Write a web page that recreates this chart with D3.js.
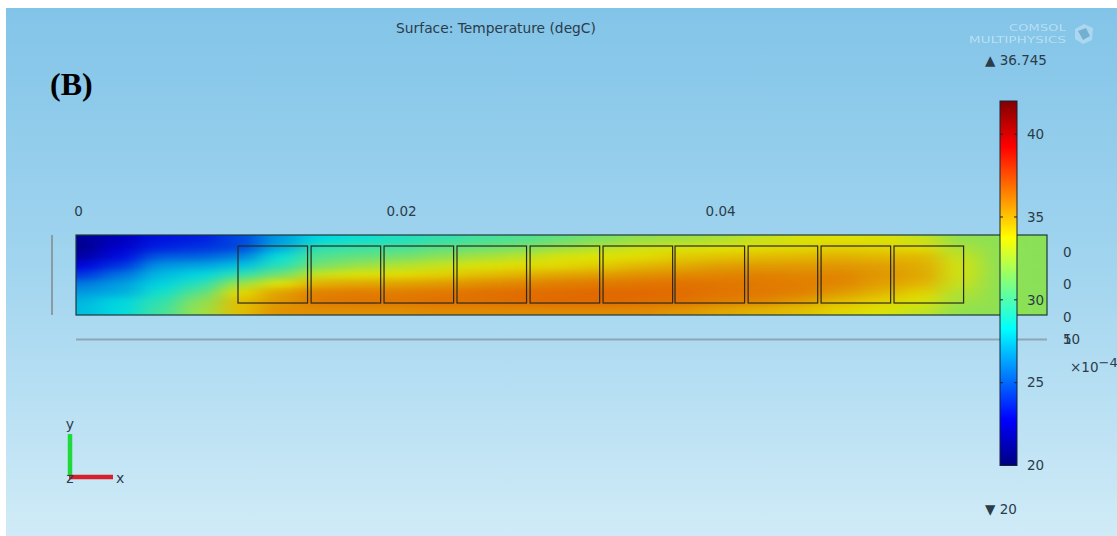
<!DOCTYPE html>
<html>
<head>
<meta charset="utf-8">
<script src="https://cdn.jsdelivr.net/npm/d3@7"></script>
<style>
  html, body { margin: 0; padding: 0; background: #fff; }
  svg { display: block; }
  text { font-family: "DejaVu Sans", sans-serif; fill: #2b3c4a; }
</style>
</head>
<body>
<svg id="chart" width="1117" height="536"></svg>
<script>
const titleText = 'Surface: Temperature (degC)';
const panelLabel = '(B)';
const maxLabel = '36.745';
const minLabel = '20';

// x axis, metres
const xTicks = [0, 0.02, 0.04];
const xDomain = [0, 0.0603];

// y axis, mm. Labels are the odd rounded ones in the picture, "10" and "5" overprint
const yTicks = [5.4, 3.4, 1.4, 0, 0];
const yTickLabels = ['0', '0', '0', '5', '10'];
const yDomain = [1.51, 6.45];

// colour bar
const barTicks = [20, 25, 30, 35, 40];
const barDomain = [20, 42];
const rainbowStops = [20, 22.75, 28.25, 33.75, 39.25, 42];
const rainbowColors = ['#000080', '#0000ff', '#00ffff', '#ffff00', '#ff0000', '#800000'];
const fieldColors = ['#000078', '#0000e0', '#00e0e0', '#e2e200', '#e00000', '#700000'];

// heating blocks: left edge in metres
const blockStarts = [0.01006, 0.0146, 0.01913, 0.02366, 0.0282, 0.03273, 0.0372, 0.04174, 0.04627, 0.0508];
const blockWidth = 0.00432;
const blockTop = 5.77;
const blockBottom = 2.25;

// sampled temperature field, degC
const fieldCols = [0.00025, 0.00273, 0.00522, 0.0077, 0.01019, 0.01267, 0.01516, 0.01764, 0.02012, 0.02261,
  0.02509, 0.02758, 0.03006, 0.03255, 0.03503, 0.03752, 0.04, 0.04248, 0.04497, 0.04745, 0.04994, 0.05242,
  0.05491, 0.05739, 0.05988, 0.0603];
const fieldRows = [6.2, 5.65, 5.1, 4.55, 4, 3.45, 2.9, 2.35, 1.8];
const fieldTemps = [
  [20.8, 20.6, 21.2, 22.8, 24.0, 25.6, 26.5, 27.2, 27.4],
  [21.8, 22.3, 23.0, 24.0, 25.5, 26.5, 27.0, 28.0, 28.1],
  [23.2, 23.6, 25.0, 26.4, 27.3, 27.9, 28.7, 29.4, 29.8],
  [23.5, 24.0, 25.2, 26.8, 28.0, 29.2, 30.4, 31.6, 32.0],
  [24.5, 24.5, 26.0, 27.5, 29.5, 32.0, 33.9, 34.6, 34.6],
  [26.6, 27.0, 28.4, 29.3, 31.0, 33.7, 35.3, 35.6, 35.7],
  [28.1, 29.4, 30.3, 31.2, 33.2, 35.0, 36.1, 36.3, 35.8],
  [28.6, 29.7, 30.7, 32.0, 33.6, 35.2, 36.2, 36.4, 35.8],
  [29.0, 30.0, 31.1, 32.6, 33.9, 35.3, 36.2, 36.4, 35.8],
  [29.5, 30.5, 31.7, 33.1, 34.2, 35.5, 36.3, 36.5, 35.9],
  [29.9, 30.9, 32.3, 33.6, 34.6, 35.8, 36.5, 36.5, 35.9],
  [30.2, 31.3, 32.8, 33.9, 34.9, 36.0, 36.6, 36.6, 35.9],
  [30.7, 32.0, 33.5, 34.0, 35.2, 36.2, 36.6, 36.7, 35.9],
  [31.3, 32.7, 33.7, 34.3, 35.4, 36.3, 36.7, 36.7, 35.9],
  [31.8, 33.3, 33.9, 34.8, 35.7, 36.4, 36.7, 36.6, 35.9],
  [32.1, 33.5, 34.3, 35.1, 35.9, 36.5, 36.6, 36.5, 35.6],
  [32.4, 33.7, 34.5, 35.4, 36.0, 36.4, 36.4, 36.2, 35.2],
  [33.0, 33.9, 34.7, 35.5, 36.1, 36.3, 36.3, 36.0, 34.9],
  [33.5, 34.0, 34.8, 35.5, 36.0, 36.2, 36.1, 35.5, 34.6],
  [33.7, 34.2, 35.0, 35.6, 36.0, 36.0, 35.5, 34.7, 34.1],
  [33.6, 34.1, 34.8, 35.4, 35.6, 35.4, 34.9, 34.2, 33.6],
  [33.1, 33.9, 34.8, 35.1, 35.2, 34.9, 34.2, 33.6, 33.0],
  [31.8, 32.4, 33.0, 33.3, 33.3, 33.0, 32.6, 32.2, 31.8],
  [31.7, 31.7, 31.7, 31.7, 31.7, 31.7, 31.7, 31.7, 31.7],
  [31.6, 31.6, 31.6, 31.6, 31.6, 31.6, 31.6, 31.6, 31.6],
  [31.6, 31.6, 31.6, 31.6, 31.6, 31.6, 31.6, 31.6, 31.6],
];

const width = 1117;
const height = 536;

const x = d3.scaleLinear().domain(xDomain).range([76, 1047]);
const y = d3.scaleLinear().domain(yDomain).range([315, 235]);
const barY = d3.scaleLinear().domain(barDomain).range([465.5, 101]);
const barColor = d3.scaleLinear().domain(rainbowStops).range(rainbowColors);
const fieldColor = d3.scaleLinear().domain(rainbowStops).range(fieldColors);

const svg = d3.select('#chart');
const defs = svg.append('defs');

// Backdrop
const bgGrad = defs.append('linearGradient')
  .attr('id', 'bg').attr('x1', 0).attr('y1', 0).attr('x2', 0).attr('y2', 1);
bgGrad.append('stop').attr('offset', 0).attr('stop-color', '#82c4e8');
bgGrad.append('stop').attr('offset', 0.5).attr('stop-color', '#a2d5ef');
bgGrad.append('stop').attr('offset', 1).attr('stop-color', '#d0ebf7');

svg.append('rect').attr('width', width).attr('height', height).attr('fill', '#fff');
svg.append('rect')
  .attr('x', 6).attr('y', 8)
  .attr('width', width - 6).attr('height', height - 8)
  .attr('fill', 'url(#bg)');

// Clip + blur so the sampled cells read as a continuous field
defs.append('clipPath').attr('id', 'domain-clip')
  .append('rect')
  .attr('x', x(0)).attr('y', y(yDomain[1]))
  .attr('width', x(xDomain[1]) - x(0))
  .attr('height', y(yDomain[0]) - y(yDomain[1]));

const blur = defs.append('filter').attr('id', 'smooth')
  .attr('filterUnits', 'userSpaceOnUse')
  .attr('x', 0).attr('y', 180).attr('width', width).attr('height', 200)
  .attr('color-interpolation-filters', 'sRGB');
blur.append('feGaussianBlur').attr('stdDeviation', '13 3');

const fieldLayer = svg.append('g').attr('clip-path', 'url(#domain-clip)')
  .append('g').attr('filter', 'url(#smooth)');

const colEdge = i => (i === 0 ? x(0) - 40
  : i === fieldCols.length ? x(xDomain[1]) + 40
  : (x(fieldCols[i - 1]) + x(fieldCols[i])) / 2);
const rowEdge = j => (j === 0 ? y(yDomain[1]) - 20
  : j === fieldRows.length ? y(yDomain[0]) + 20
  : (y(fieldRows[j - 1]) + y(fieldRows[j])) / 2);

fieldTemps.forEach((col, i) => {
  fieldLayer.selectAll(`rect.col-${i}`)
    .data(col)
    .join('rect')
    .attr('class', `col-${i}`)
    .attr('x', colEdge(i))
    .attr('width', colEdge(i + 1) - colEdge(i) + 0.5)
    .attr('y', (d, j) => rowEdge(j))
    .attr('height', (d, j) => rowEdge(j + 1) - rowEdge(j) + 0.5)
    .attr('fill', d => fieldColor(d));
});

// Domain outline and heating blocks
svg.append('rect')
  .attr('x', x(0)).attr('y', y(yDomain[1]))
  .attr('width', x(xDomain[1]) - x(0))
  .attr('height', y(yDomain[0]) - y(yDomain[1]))
  .attr('fill', 'none')
  .attr('stroke', '#1d3a3a').attr('stroke-width', 1.2);

svg.append('g').selectAll('rect')
  .data(blockStarts)
  .join('rect')
  .attr('x', d => x(d))
  .attr('y', y(blockTop))
  .attr('width', x(blockWidth) - x(0))
  .attr('height', y(blockBottom) - y(blockTop))
  .attr('fill', 'none')
  .attr('stroke', '#2a2a20').attr('stroke-width', 1.2);

// Grey axis rulers
svg.append('line')
  .attr('x1', 52).attr('x2', 52)
  .attr('y1', y(yDomain[1])).attr('y2', y(yDomain[0]))
  .attr('stroke', '#8a9ba6').attr('stroke-width', 2);
svg.append('line')
  .attr('x1', x(0)).attr('x2', x(xDomain[1]))
  .attr('y1', 339.5).attr('y2', 339.5)
  .attr('stroke', '#8fa6b3').attr('stroke-width', 2);

// Axes
const xAxis = d3.axisTop(x).tickValues(xTicks)
  .tickSize(0).tickFormat(d => (d === 0 ? '0' : d3.format('.2f')(d)));
svg.append('g')
  .attr('transform', 'translate(0,219)')
  .call(xAxis)
  .call(g => g.select('.domain').remove())
  .call(g => g.selectAll('text').attr('font-size', 13.5).attr('dy', 0)
    .attr('dx', (d, i) => [2, 3, 0][i]));

const yAxis = d3.axisRight(y).tickValues(yTicks)
  .tickSize(0).tickFormat((d, i) => yTickLabels[i]);
svg.append('g')
  .attr('transform', 'translate(1063,0)')
  .call(yAxis)
  .call(g => g.select('.domain').remove())
  .call(g => g.selectAll('text').attr('x', 0).attr('font-size', 13.5));

const expLabel = svg.append('text').attr('x', 1070).attr('y', 372).attr('font-size', 13.5);
expLabel.append('tspan').text('×10');
expLabel.append('tspan').attr('dy', -5).attr('font-size', 13).text('−4');

// Colour bar
const barGrad = defs.append('linearGradient')
  .attr('id', 'rainbow').attr('x1', 0).attr('y1', 1).attr('x2', 0).attr('y2', 0);
barGrad.selectAll('stop')
  .data(rainbowStops)
  .join('stop')
  .attr('offset', d => (d - barDomain[0]) / (barDomain[1] - barDomain[0]))
  .attr('stop-color', d => barColor(d));

svg.append('rect')
  .attr('x', 1000).attr('y', barY(barDomain[1]))
  .attr('width', 17).attr('height', barY(barDomain[0]) - barY(barDomain[1]))
  .attr('fill', 'url(#rainbow)')
  .attr('stroke', '#152536').attr('stroke-width', 1);

const barAxis = d3.axisRight(barY).tickValues(barTicks).tickSize(0).tickPadding(0);
svg.append('g')
  .attr('transform', 'translate(1027,0)')
  .call(barAxis)
  .call(g => g.select('.domain').remove())
  .call(g => g.selectAll('text').attr('font-size', 13.5));

// little inner tick marks on both edges of the bar
const barMarks = svg.append('g').selectAll('g')
  .data(barTicks.slice(1))
  .join('g')
  .attr('transform', d => `translate(0,${barY(d)})`);
barMarks.append('line').attr('x1', 1000).attr('x2', 1003).attr('stroke', '#152536');
barMarks.append('line').attr('x1', 1014).attr('x2', 1017).attr('stroke', '#152536');

svg.append('text').attr('x', 985).attr('y', 65).attr('font-size', 13.5)
  .text('▲ ' + maxLabel);
svg.append('text').attr('x', 985).attr('y', 514).attr('font-size', 13.5)
  .text('▼ ' + minLabel);

// Title and panel letter
svg.append('text')
  .attr('x', 496).attr('y', 33).attr('text-anchor', 'middle').attr('font-size', 13.8)
  .text(titleText);
svg.append('text')
  .attr('x', 50).attr('y', 95)
  .attr('font-size', 32).attr('font-weight', 'bold')
  .style('font-family', '"Liberation Serif", serif').style('fill', '#000')
  .text(panelLabel);

// Watermark
const logo = svg.append('g').attr('opacity', 0.42);
logo.append('text').attr('x', 1009).attr('y', 31).attr('font-size', 8)
  .attr('textLength', 57).attr('lengthAdjust', 'spacingAndGlyphs')
  .style('fill', '#fff').text('COMSOL');
logo.append('text').attr('x', 969).attr('y', 43).attr('font-size', 8)
  .attr('textLength', 97).attr('lengthAdjust', 'spacingAndGlyphs')
  .style('fill', '#fff').text('MULTIPHYSICS');
logo.append('path')
  .attr('d', 'M1075,29 L1084,24 L1093,28 L1092,40 L1083,44 L1075,39 Z')
  .attr('fill', '#dff1fa');
logo.append('path')
  .attr('d', 'M1078,31 L1086,28 L1090,36 L1083,40 Z')
  .attr('fill', '#5f8fb0');

// Orientation triad
svg.append('line').attr('x1', 70).attr('x2', 70).attr('y1', 434).attr('y2', 476)
  .attr('stroke', '#1fd93a').attr('stroke-width', 4.5);
svg.append('line').attr('x1', 69).attr('x2', 113).attr('y1', 477).attr('y2', 477)
  .attr('stroke', '#d8202c').attr('stroke-width', 4.5);
svg.append('text').attr('x', 70).attr('y', 429).attr('text-anchor', 'middle').attr('font-size', 14).text('y');
svg.append('text').attr('x', 70).attr('y', 483).attr('text-anchor', 'middle').attr('font-size', 14).text('z');
svg.append('text').attr('x', 116).attr('y', 483).attr('font-size', 14).text('x');
</script>
</body>
</html>
